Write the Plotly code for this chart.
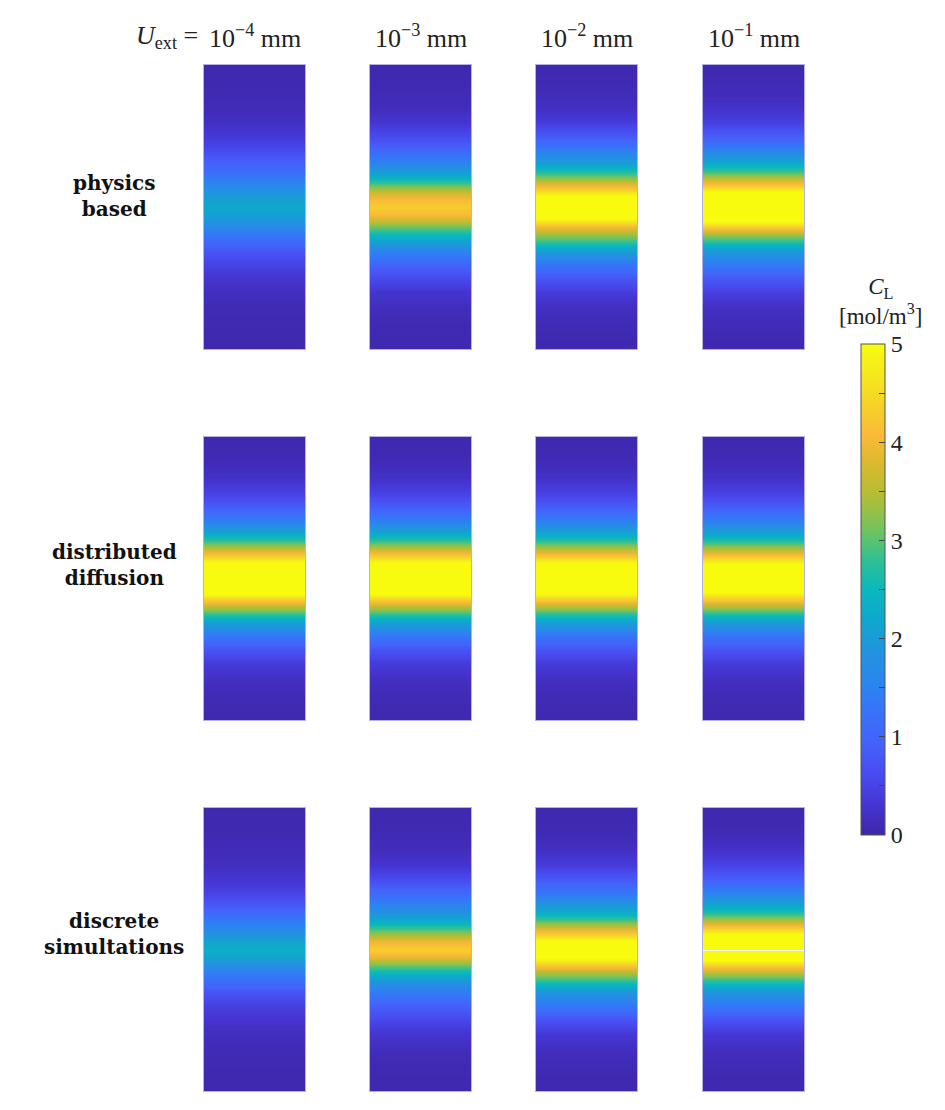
import plotly.graph_objects as go

# the page adds an 8px body margin, so the figure is 8px smaller than the window
OFF = 8
W, H = 945 - OFF, 1110 - OFF

# normalised position along each specimen (0 = top, 1 = bottom)
depth = [0, .05, .1, .15, .2, .25, .3, .35, .375, .4, .425, .45, .475, .5,
         .525, .55, .575, .6, .625, .65, .7, .75, .8, .85, .9, .95, 1]
# the last discrete panel has one missing sample in the middle
depth_gap = [0, .05, .1, .15, .2, .25, .3, .35, .375, .4, .425, .45, .475, .497, .5,
             .506, .525, .55, .575, .6, .625, .65, .7, .75, .8, .85, .9, .95, 1]

col_labels = ["10<sup>−4</sup> mm", "10<sup>−3</sup> mm", "10<sup>−2</sup> mm", "10<sup>−1</sup> mm"]
row_labels = ["<b>physics</b><br><b>based</b>",
              "<b>distributed</b><br><b>diffusion</b>",
              "<b>discrete</b><br><b>simultations</b>"]

# C_L [mol/m3], physics based
phys_1e4 = [0.05, 0.06, 0.08, 0.12, 0.2, 0.35, 0.6, 0.95, 1.15, 1.4, 1.65, 1.9, 2.1, 2.2,
            2.1, 1.88, 1.58, 1.3, 1.0, 0.78, 0.5, 0.3, 0.18, 0.11, 0.08, 0.06, 0.05]
phys_1e3 = [0.05, 0.07, 0.1, 0.15, 0.3, 0.6, 1.0, 1.6, 2.0, 2.5, 3.1, 3.7, 4.1, 4.3,
            4.1, 3.6, 3.0, 2.5, 2.0, 1.6, 1.0, 0.6, 0.3, 0.17, 0.1, 0.07, 0.05]
phys_1e2 = [0.06, 0.08, 0.12, 0.2, 0.4, 0.8, 1.4, 2.1, 2.7, 3.3, 4.0, 4.7, 5.4, 5.6,
            5.4, 4.7, 3.9, 3.3, 2.7, 2.1, 1.3, 0.75, 0.4, 0.2, 0.12, 0.08, 0.06]
phys_1e1 = [0.06, 0.08, 0.13, 0.25, 0.45, 0.85, 1.5, 2.3, 2.9, 3.6, 4.3, 5.1, 5.8, 6.0,
            5.8, 5.0, 4.2, 3.3, 2.6, 2.0, 1.4, 0.8, 0.45, 0.22, 0.13, 0.08, 0.06]

# distributed diffusion
dist_1e4 = [0.06, 0.08, 0.13, 0.25, 0.5, 0.9, 1.5, 2.4, 3.0, 3.7, 4.4, 5.2, 5.9, 6.1,
            5.9, 5.1, 4.3, 3.5, 2.8, 2.2, 1.35, 0.75, 0.4, 0.2, 0.12, 0.08, 0.06]
dist_1e3 = [0.06, 0.08, 0.13, 0.25, 0.5, 0.9, 1.5, 2.4, 3.0, 3.7, 4.4, 5.2, 5.9, 6.1,
            5.9, 5.1, 4.3, 3.5, 2.8, 2.2, 1.35, 0.75, 0.4, 0.2, 0.12, 0.08, 0.06]
dist_1e2 = [0.06, 0.08, 0.13, 0.25, 0.5, 0.9, 1.5, 2.35, 2.95, 3.6, 4.35, 5.1, 5.8, 6.0,
            5.8, 5.0, 4.25, 3.45, 2.75, 2.15, 1.3, 0.75, 0.4, 0.2, 0.12, 0.08, 0.06]
dist_1e1 = [0.06, 0.08, 0.13, 0.25, 0.5, 0.9, 1.5, 2.3, 2.9, 3.55, 4.3, 5.0, 5.6, 5.8,
            5.6, 4.9, 4.2, 3.4, 2.7, 2.1, 1.3, 0.75, 0.4, 0.2, 0.12, 0.08, 0.06]

# discrete simulations
disc_1e4 = [0.05, 0.06, 0.08, 0.12, 0.18, 0.3, 0.5, 0.85, 1.1, 1.35, 1.6, 1.85, 2.15, 2.35,
            2.15, 1.8, 1.5, 1.25, 1.0, 0.75, 0.45, 0.28, 0.17, 0.11, 0.08, 0.06, 0.05]
disc_1e3 = [0.05, 0.07, 0.1, 0.15, 0.3, 0.6, 1.05, 1.6, 1.9, 2.3, 2.8, 3.4, 4.0, 4.35,
            3.9, 3.2, 2.6, 2.1, 1.7, 1.4, 0.9, 0.55, 0.3, 0.16, 0.1, 0.07, 0.05]
disc_1e2 = [0.05, 0.07, 0.11, 0.2, 0.4, 0.8, 1.3, 2.0, 2.4, 3.0, 3.7, 4.4, 5.1, 5.4,
            5.1, 4.4, 3.6, 3.0, 2.4, 1.9, 1.3, 0.7, 0.35, 0.18, 0.11, 0.07, 0.05]
disc_1e1 = [0.05, 0.07, 0.12, 0.25, 0.5, 0.9, 1.5, 2.3, 2.8, 3.5, 4.3, 5.1, 5.6, 5.6, None,
            5.6, 5.4, 4.5, 3.7, 3.0, 2.4, 1.9, 1.3, 0.7, 0.35, 0.18, 0.11, 0.07, 0.05]

profiles = [[phys_1e4, phys_1e3, phys_1e2, phys_1e1],
            [dist_1e4, dist_1e3, dist_1e2, dist_1e1],
            [disc_1e4, disc_1e3, disc_1e2, disc_1e1]]

# MATLAB-like parula
parula = [
    [0.0, "rgb(62,38,168)"], [0.0625, "rgb(69,53,210)"], [0.125, "rgb(72,76,240)"],
    [0.1875, "rgb(68,98,250)"], [0.25, "rgb(55,115,248)"], [0.3125, "rgb(42,134,238)"],
    [0.375, "rgb(32,148,222)"], [0.4375, "rgb(15,167,206)"], [0.5, "rgb(10,183,190)"],
    [0.5625, "rgb(50,192,145)"], [0.625, "rgb(118,195,92)"], [0.6875, "rgb(175,190,55)"],
    [0.75, "rgb(215,186,45)"], [0.8125, "rgb(250,185,58)"], [0.875, "rgb(245,210,40)"],
    [0.9375, "rgb(245,232,30)"], [1.0, "rgb(249,251,14)"],
]


def px(x):
    return (x - OFF) / W


def py(y):
    return 1 - (y - OFF) / H


# panel boxes in window pixels
col_px = [(204, 305), (370, 471), (536, 637), (703, 804)]
row_px = [(65, 349), (437, 720), (808, 1091)]

edge = "rgba(170,170,225,0.9)"
fig = go.Figure()
for r in range(3):
    for c in range(4):
        k = r * 4 + c + 1
        prof = profiles[r][c]
        ys = depth_gap if len(prof) == len(depth_gap) else depth
        sfx = "" if k == 1 else str(k)
        fig.add_trace(go.Heatmap(
            x=[0, 1], y=ys, z=[[v, v] for v in prof],
            coloraxis="coloraxis", zsmooth="best", hoverinfo="skip",
            xaxis="x" + sfx, yaxis="y" + sfx,
        ))
        x0, x1 = col_px[c]
        y0, y1 = row_px[r]
        common = dict(showticklabels=False, ticks="", showgrid=False, zeroline=False,
                      showline=True, mirror=True, linecolor=edge, linewidth=1, fixedrange=True)
        fig.layout["xaxis" + sfx] = dict(domain=[px(x0), px(x1)], range=[0, 1],
                                         anchor="y" + sfx, **common)
        fig.layout["yaxis" + sfx] = dict(domain=[py(y1), py(y0)], range=[1, 0],
                                         anchor="x" + sfx, **common)

serif = "Liberation Serif"

fig.update_layout(
    width=W, height=H,
    margin=dict(l=0, r=0, t=0, b=0),
    paper_bgcolor="white", plot_bgcolor="white",
    showlegend=False,
    coloraxis=dict(
        colorscale=parula, cmin=0, cmax=5,
        colorbar=dict(
            x=px(861), xanchor="left", y=py(344), yanchor="top",
            len=(835 - 344) / H, lenmode="fraction", thickness=24, thicknessmode="pixels",
            outlinewidth=1, outlinecolor="#555",
            tickvals=[0, 0.5, 1, 1.5, 2, 2.5, 3, 3.5, 4, 4.5, 5],
            ticktext=["0", "", "1", "", "2", "", "3", "", "4", "", "5"],
            ticks="inside", ticklen=6, tickcolor="#444", tickwidth=1,
            tickfont=dict(family=serif, size=24, color="#222"),
            xpad=0, ypad=0,
        ),
    ),
)

# column headers
for c, lab in enumerate(col_labels):
    x0, x1 = col_px[c]
    fig.add_annotation(x=px((x0 + x1) / 2), y=py(37), xref="paper", yref="paper",
                       text=lab, showarrow=False, xanchor="center", yanchor="middle",
                       font=dict(family=serif, size=26, color="#222"))
fig.add_annotation(x=px(200), y=py(37), xref="paper", yref="paper",
                   text="<i>U</i><sub>ext</sub> =", showarrow=False, xanchor="right",
                   yanchor="middle", font=dict(family=serif, size=26, color="#222"))

# row labels
row_label_y = [196, 565, 934]
for r, lab in enumerate(row_labels):
    fig.add_annotation(x=px(114), y=py(row_label_y[r]), xref="paper", yref="paper",
                       text=lab, showarrow=False, xanchor="center", yanchor="middle",
                       font=dict(family="DejaVu Serif", size=20, color="#111"))

# colorbar title
fig.add_annotation(x=px(880), y=py(302), xref="paper", yref="paper",
                   text="<i>C</i><sub>L</sub><br>[mol/m<sup>3</sup>]", showarrow=False,
                   xanchor="center", yanchor="middle",
                   font=dict(family=serif, size=23, color="#222"))

fig.write_html("out.html")
